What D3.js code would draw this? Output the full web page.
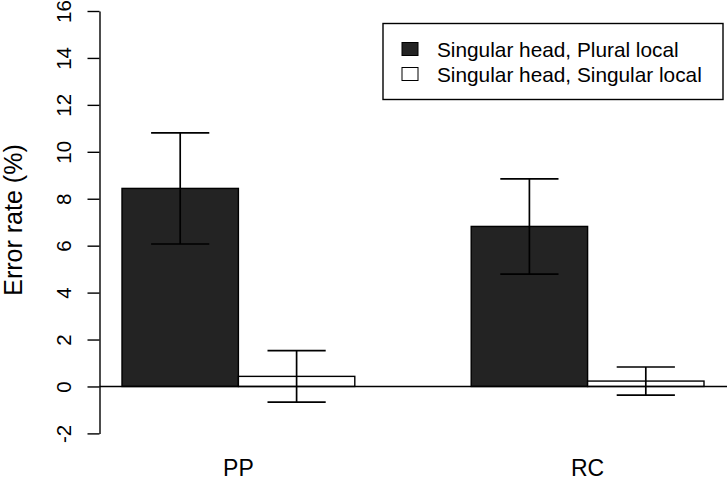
<!DOCTYPE html>
<html>
<head>
<meta charset="utf-8">
<script src="https://cdn.jsdelivr.net/npm/d3@7"></script>
<style>
  body { margin: 0; background: #fff; }
  text { font-family: "Liberation Sans", Arial, sans-serif; fill: #000; }
</style>
</head>
<body>
<div id="chart"></div>
<script>
var categories = ["PP", "RC"];
var seriesNames = ["Singular head, Plural local", "Singular head, Singular local"];
var pluralMeans = [8.44, 6.82];
var pluralSE = [2.37, 2.03];
var singularMeans = [0.43, 0.23];
var singularSE = [1.1, 0.6];
var yTicks = [-2, 0, 2, 4, 6, 8, 10, 12, 14, 16];

var width = 727, height = 480;
var fills = ["#232323", "#ffffff"];

var svg = d3.select("#chart").append("svg")
    .attr("width", width)
    .attr("height", height);

// bar units as in R barplot(beside=TRUE): bars of width 1, one unit gap between groups
var x = d3.scaleLinear().domain([1, 6]).range([122, 704]);
var y = d3.scaleLinear().domain([-2, 16]).range([433.4, 11]);

var bars = [];
categories.forEach(function(c, i) {
  var start = 1 + i * 3;
  bars.push({cat: c, s: 0, x0: start, mean: pluralMeans[i], se: pluralSE[i]});
  bars.push({cat: c, s: 1, x0: start + 1, mean: singularMeans[i], se: singularSE[i]});
});

svg.append("g").selectAll("rect")
  .data(bars)
  .enter().append("rect")
    .attr("x", function(d) { return x(d.x0); })
    .attr("width", function(d) { return x(d.x0 + 1) - x(d.x0); })
    .attr("y", function(d) { return y(Math.max(0, d.mean)); })
    .attr("height", function(d) { return Math.abs(y(d.mean) - y(0)); })
    .attr("fill", function(d) { return fills[d.s]; })
    .attr("stroke", "#000")
    .attr("stroke-width", 1.4);

// zero line
svg.append("line")
    .attr("x1", 99.5).attr("x2", width)
    .attr("y1", y(0)).attr("y2", y(0))
    .attr("stroke", "#000").attr("stroke-width", 1.4);

// error bars
var err = svg.append("g").attr("stroke", "#000").attr("stroke-width", 1.7);
bars.forEach(function(d) {
  var cx = x(d.x0 + 0.5), hw = x(d.x0 + 0.25) - x(d.x0);
  err.append("line").attr("x1", cx).attr("x2", cx)
    .attr("y1", y(d.mean + d.se)).attr("y2", y(d.mean - d.se));
  [d.mean + d.se, d.mean - d.se].forEach(function(v) {
    err.append("line").attr("x1", cx - hw).attr("x2", cx + hw)
      .attr("y1", y(v)).attr("y2", y(v));
  });
});

// y axis
var yAxis = svg.append("g")
    .attr("transform", "translate(99.5,0)")
    .attr("font-size", null)
    .call(d3.axisLeft(y).tickValues(yTicks).tickSize(12).tickSizeOuter(0)
      .tickFormat(function(d) { return String(d); }));
yAxis.selectAll("path, line").attr("stroke", "#000").attr("stroke-width", 1.4);
yAxis.selectAll("text")
    .attr("x", null).attr("dy", null)
    .attr("transform", "translate(-29,0) rotate(-90)")
    .attr("text-anchor", "middle")
    .attr("font-size", 20.5)
    .style("font-size", "20.5px")
    .attr("fill", "#000");

svg.append("text")
    .attr("transform", "translate(22,220) rotate(-90)")
    .attr("text-anchor", "middle")
    .style("font-size", "25px")
    .text("Error rate (%)");

// category labels
svg.append("g").selectAll("text")
  .data(categories)
  .enter().append("text")
    .attr("x", function(d, i) { return x(2 + i * 3); })
    .attr("y", 476)
    .attr("text-anchor", "middle")
    .style("font-size", "23px")
    .text(function(d) { return d; });

// legend
var legend = svg.append("g");
legend.append("rect")
    .attr("x", 383).attr("y", 23.5)
    .attr("width", 340).attr("height", 76)
    .attr("fill", "#fff").attr("stroke", "#000").attr("stroke-width", 1.4);

var items = legend.selectAll("g.item")
  .data(seriesNames)
  .enter().append("g")
    .attr("class", "item")
    .attr("transform", function(d, i) { return "translate(0," + (49 + i * 25) + ")"; });

items.append("rect")
    .attr("x", 402).attr("y", -6.5)
    .attr("width", 16).attr("height", 13)
    .attr("fill", function(d, i) { return fills[i]; })
    .attr("stroke", "#000").attr("stroke-width", 1);

items.append("text")
    .attr("x", 437).attr("y", 7.5)
    .style("font-size", "20.8px")
    .text(function(d) { return d; });
</script>
</body>
</html>
